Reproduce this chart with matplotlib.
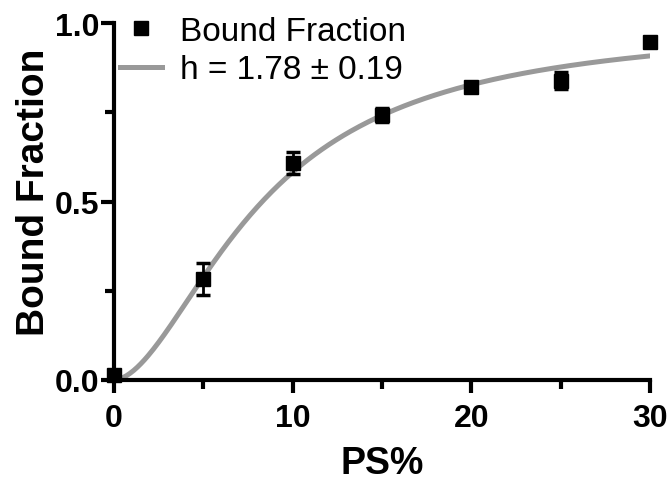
import numpy as np
from matplotlib import pyplot as plt
from matplotlib.lines import Line2D

plt.rcParams['font.family'] = ['Liberation Sans', 'DejaVu Sans']

# measured points (mean +/- error)
ps = [0, 5, 10, 15, 20, 25, 30]
bound = [0.014, 0.283, 0.607, 0.742, 0.822, 0.838, 0.947]
err = [0.0, 0.045, 0.031, 0.02, 0.01, 0.024, 0.0]

# Hill fit parameters
h = 1.78
K = 8.3
Bmax = 1.0

fig = plt.figure(figsize=(6.7, 4.81), dpi=100)
ax = fig.add_axes([114 / 670, 1 - 381 / 481, 536 / 670, 357 / 481])

xfit = np.linspace(0, 30, 300)
yfit = Bmax * xfit**h / (K**h + xfit**h)
ax.plot(xfit, yfit, color='#999999', lw=3.6, zorder=2)

ax.errorbar(ps, bound, yerr=err, fmt='s', color='black', ms=10, elinewidth=2,
            capsize=5, capthick=2.5, clip_on=False, zorder=3)

ax.set_xlim(0, 30)
ax.set_ylim(0, 1.0)
ax.set_xticks([0, 10, 20, 30])
ax.set_xticks([5, 15, 25], minor=True)
ax.set_yticks([0, 0.5, 1.0])
ax.set_yticks([0.25, 0.75], minor=True)
ax.set_yticklabels(['0.0', '0.5', '1.0'])

for s in ['top', 'right']:
    ax.spines[s].set_visible(False)
for s in ['left', 'bottom']:
    ax.spines[s].set_linewidth(3)
ax.tick_params(which='major', length=9.5, width=3, labelsize=23)
ax.tick_params(which='minor', length=6.5, width=3)
ax.tick_params(axis='x', which='major', pad=7)
ax.tick_params(axis='y', which='major', pad=1)
for lab in ax.get_xticklabels() + ax.get_yticklabels():
    lab.set_fontweight('bold')

ax.set_xlabel('PS%', fontsize=27, fontweight='bold', labelpad=9)
ax.set_ylabel('Bound Fraction', fontsize=28, fontweight='bold')
ax.yaxis.set_label_coords(-0.115, 0.528)

h1 = Line2D([], [], marker='s', ms=10, color='black', ls='none')
h2 = Line2D([], [], color='#999999', lw=3.6)
leg = fig.legend([h1, h2], ['Bound Fraction', 'h = 1.78 \u00b1 0.19'],
                 loc='upper left', bbox_to_anchor=(120 / 670, 1 - 17 / 481),
                 frameon=False, fontsize=24, handlelength=1.26, handletextpad=0.54,
                 labelspacing=0.22, borderpad=0, borderaxespad=0)

fig.savefig('out.png', dpi=100)
